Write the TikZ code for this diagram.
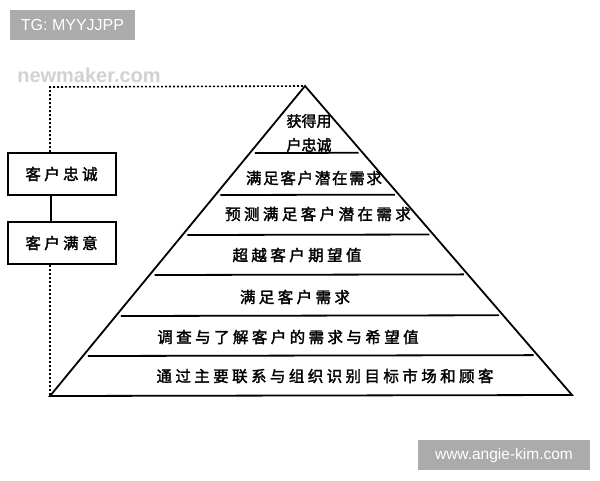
\documentclass[tikz,border=0pt]{standalone}
\usepackage{fontspec}
\setmainfont{Liberation Sans}
\newfontfamily\cjk{Noto Sans CJK SC}[LetterSpace=22, FakeBold=2]
\newfontfamily\cjkmid{Noto Sans CJK SC}[LetterSpace=11, FakeBold=2]
\newfontfamily\cjktight{Noto Sans CJK SC}[LetterSpace=0, FakeBold=2]
\newfontfamily\wmfont{Liberation Sans}
\usetikzlibrary{calc}
\begin{document}
\begin{tikzpicture}[x=1pt,y=-1pt,
  lvl/.style={font=\cjk\fontsize{15.5}{17}\selectfont, inner sep=0pt, anchor=center},
  sidebox/.style={draw, line width=2pt, minimum width=108pt, minimum height=42pt, inner sep=0pt, font=\cjk\fontsize{15.5}{17}\selectfont},
  tier/.style={line width=1.8pt},
  dashline/.style={line width=1.6pt, dash pattern=on 2pt off 2pt},
  wmbox/.style={fill=black!33, text=white, inner sep=0pt, font=\wmfont\fontsize{16}{18}\selectfont}
  ]
\useasboundingbox (0,0) rectangle (600,480);
% watermarks
\node[wmbox, minimum width=125pt, minimum height=30pt] (tg) at (72.5,25) {TG: MYYJJPP};
\node[wmbox, minimum width=172pt, minimum height=30pt, font=\wmfont\fontsize{15.5}{18}\selectfont] (ak) at (504,455) {www.angie-kim.com};
\node[text=black!18, font=\wmfont\fontsize{20}{22}\selectfont\bfseries, inner sep=0pt] (nm) at (89,75) {newmaker.com};
% pyramid
\coordinate (A) at (305,86);
\coordinate (BL) at (50,396);
\coordinate (BR) at (572,395);
\draw[tier, line join=miter] (A) -- (BL) -- (BR) -- cycle;
\foreach \y in {153,195,235,275,316,356}{
  \pgfmathsetmacro{\t}{(\y-86)/310}
  \draw[tier] ($(A)!\t!(BL)+(5,0)$) -- ($(A)!\t!(BR)+(-4,0)$);
}
% levels
\node[lvl, font=\cjktight\fontsize{15}{17}\selectfont] (l1a) at (309,121) {获得用};
\node[lvl, font=\cjktight\fontsize{15}{17}\selectfont] (l1b) at (309,145) {户忠诚};
\node[lvl, font=\cjkmid\fontsize{15.5}{17}\selectfont] (l2) at (314,178) {满足客户潜在需求};
\node[lvl] (l3) at (318,214) {预测满足客户潜在需求};
\node[lvl] (l4) at (297,255) {超越客户期望值};
\node[lvl] (l5) at (295,297) {满足客户需求};
\node[lvl] (l6) at (288,337) {调查与了解客户的需求与希望值};
\node[lvl] (l7) at (325,376) {通过主要联系与组织识别目标市场和顾客};
% side boxes
\node[sidebox] (loyal) at (61.5,174) {客户忠诚};
\node[sidebox] (satis) at (61.5,243) {客户满意};
\coordinate (tl) at (50,87);
\draw[line width=1.6pt] (loyal.south -| 51,0) -- (satis.north -| 51,0);
\draw[dashline] (loyal.north -| 50,0) -- (tl) -- (A);
\draw[dashline] (satis.south -| 50,0) -- (BL);
\end{tikzpicture}
\end{document}
